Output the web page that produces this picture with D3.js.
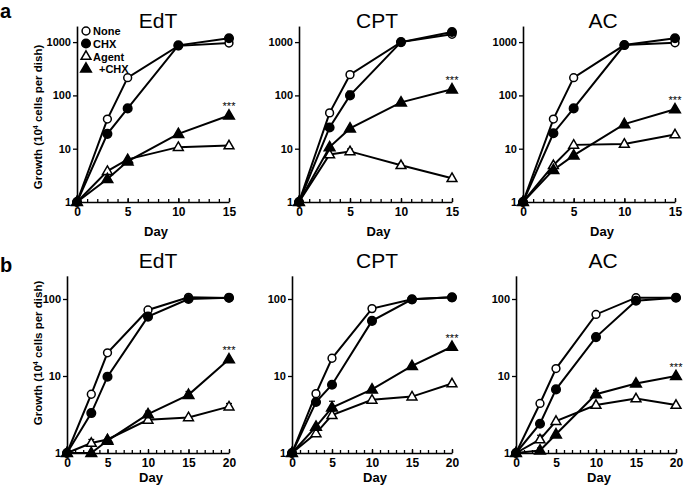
<!DOCTYPE html>
<html>
<head>
<meta charset="utf-8">
<script src="https://cdn.jsdelivr.net/npm/d3@7"></script>
<style>
  body { margin: 0; background: #fff; }
  svg { font-family: "Liberation Sans", Arial, sans-serif; }
</style>
</head>
<body>
<svg id="chart" width="685" height="486"></svg>
<script>
// data (10^4 cells per dish)
const daysA = [0, 3, 5, 10, 15];
const daysB = [0, 3, 5, 10, 15, 20];
const drugs = ["EdT", "CPT", "AC"];
const seriesNames = ["None", "CHX", "Agent", "+CHX"];

// series order: None, CHX, Agent, +CHX
const aEdT = [[1, 36, 215, 850, 960], [1, 19, 57, 870, 1180], [1, 3.8, 6.3, 10.7, 11.5], [1, 2.7, 5.8, 19, 42]];
const aCPT = [[1, 47, 245, 1000, 1400], [1, 25, 100, 1000, 1550], [1, 7.8, 8.9, 4.9, 2.8], [1, 10.7, 24, 74, 130]];
const aAC  = [[1, 36, 215, 880, 970], [1, 19.5, 57, 880, 1180], [1, 4.9, 11.8, 12.3, 18.5], [1, 4, 7.5, 29, 55]];

const bEdT = [[1, 5.8, 20, 72, 105, 103], [1, 3.3, 9.8, 59, 100, 104], [1, 1.35, 1.5, 2.7, 2.9, 4.0], [1, 1, 1.45, 3.2, 5.7, 16.5]];
const bCPT = [[1, 5.9, 17, 75, 99, 105], [1, 4.6, 7.7, 52, 99, 105], [1, 1.8, 3.1, 4.9, 5.4, 8.0], [1, 2.2, 3.9, 6.7, 13.5, 24]];
const bAC  = [[1, 4.4, 12.5, 63, 104, 104], [1, 2.4, 6.7, 32, 95, 104], [1, 1.5, 2.6, 4.2, 5.1, 4.2], [1, 1.08, 1.75, 5.8, 8.0, 10]];

// standard deviations (only where a bar is visible)
const aEdTErr = [[0, 0, 0, 0, 0], [0, 0, 0, 0, 0], [0, 0, 0, 0, 0], [0, 0, 0, 0, 0]];
const aCPTErr = [[0, 0, 0, 0, 0], [0, 0, 20, 0, 0], [0, 0, 1, 0.4, 0], [0, 0, 0, 0, 0]];
const aACErr  = [[0, 0, 0, 0, 0], [0, 0, 0, 0, 0], [0, 0, 0, 0, 0], [0, 0, 0, 0, 0]];
const bEdTErr = [[0, 0, 0, 0, 0, 0], [0, 0, 0, 6, 0, 0], [0, 0.15, 0, 0, 0, 0.4], [0, 0, 0, 0.3, 0.6, 0]];
const bCPTErr = [[0, 0, 1.5, 0, 0, 0], [0, 0, 0, 0, 0, 0], [0, 0, 0.4, 0, 0, 0], [0, 0, 0.8, 0, 0, 0]];
const bACErr  = [[0, 0, 0, 0, 0, 0], [0, 0, 0, 0, 0, 0], [0, 0.2, 0, 0, 0, 0], [0, 0.08, 0, 0.7, 0, 0]];

const yTicksA = [1, 10, 100, 1000];
const yTicksB = [1, 10, 100];
const xTicksA = [0, 5, 10, 15];
const xTicksB = [0, 5, 10, 15, 20];

const svg = d3.select("#chart");

// layout of the two rows
const rows = [
  { letter: "a", days: daysA, data: [aEdT, aCPT, aAC], err: [aEdTErr, aCPTErr, aACErr],
    yMax: 2000, yTicks: yTicksA, xTicks: xTicksA, xMax: 15,
    top: 202 - Math.log10(2000) * 53.3, bottom: 202,
    xr: [[77, 229], [299, 452], [523, 675]], titleY: 28, labelY: 117, dayY: 236, letterY: 18 },
  { letter: "b", days: daysB, data: [bEdT, bCPT, bAC], err: [bEdTErr, bCPTErr, bACErr],
    yMax: 200, yTicks: yTicksB, xTicks: xTicksB, xMax: 20,
    top: 453 - Math.log10(200) * 77, bottom: 453,
    xr: [[67, 229], [292, 452], [516, 676]], titleY: 268, labelY: 353, dayY: 482, letterY: 272 }
];
const titleX = [158, 377, 603];

const filled = [false, true, false, true];
const isTri = [false, false, true, true];

function marker(s) {
  return isTri[s]
    ? d3.symbol().type(d3.symbolTriangle).size(filled[s] ? 50 : 42)
    : d3.symbol().type(d3.symbolCircle).size(filled[s] ? 58 : 48);
}

rows.forEach(function(row) {
  svg.append("text")
    .attr("x", 0).attr("y", row.letterY)
    .attr("font-size", "20px").attr("font-weight", "bold")
    .text(row.letter);

  // y label
  const yl = svg.append("text")
    .attr("transform", "translate(42," + row.labelY + ") rotate(-90)")
    .attr("text-anchor", "middle")
    .attr("font-size", "11.5px").attr("font-weight", "bold");
  yl.append("tspan").text("Growth (10");
  yl.append("tspan").attr("font-size", "7px").attr("dy", -4).text("4");
  yl.append("tspan").attr("dy", 4).text(" cells per dish)");

  row.data.forEach(function(panel, p) {
    const x = d3.scaleLinear().domain([0, row.xMax]).range(row.xr[p]);
    const y = d3.scaleLog().domain([1, row.yMax]).range([row.bottom, row.top]);
    const g = svg.append("g");

    // title
    g.append("text")
      .attr("x", titleX[p]).attr("y", row.titleY)
      .attr("text-anchor", "middle")
      .attr("font-size", "21px")
      .text(drugs[p]);

    // x axis, minor ticks every day, pointing up
    const xMinor = g.append("g")
      .attr("transform", "translate(0," + row.bottom + ")")
      .call(d3.axisBottom(x).tickValues(d3.range(0, row.xMax + 1)).tickFormat("").tickSizeInner(-3).tickSizeOuter(0));
    xMinor.selectAll("line").attr("stroke-width", 1.3);
    xMinor.select(".domain").attr("stroke-width", 1.6);

    const xMajor = g.append("g")
      .attr("transform", "translate(0," + row.bottom + ")")
      .call(d3.axisBottom(x).tickValues(row.xTicks).tickSizeInner(-4).tickSizeOuter(0).tickPadding(5));
    xMajor.select(".domain").remove();
    xMajor.selectAll("line").attr("stroke-width", 1.3);
    xMajor.selectAll("text")
      .attr("font-size", "12px").attr("font-weight", "bold")
      .attr("font-family", "Liberation Sans, Arial, sans-serif");

    // y axis
    const yAx = g.append("g")
      .attr("transform", "translate(" + row.xr[p][0] + ",0)")
      .call(d3.axisLeft(y).tickValues(row.yTicks).tickFormat(d3.format("d")).tickSizeInner(4).tickSizeOuter(0).tickPadding(2));
    yAx.select(".domain").attr("stroke-width", 1.6);
    yAx.selectAll("line").attr("stroke-width", 1.3);
    yAx.selectAll("text")
      .attr("font-size", "11px").attr("font-weight", "bold")
      .attr("font-family", "Liberation Sans, Arial, sans-serif");

    // Day label
    g.append("text")
      .attr("x", (row.xr[p][0] + row.xr[p][1]) / 2 + 3).attr("y", row.dayY)
      .attr("text-anchor", "middle")
      .attr("font-size", "13px").attr("font-weight", "bold")
      .text("Day");

    const line = d3.line()
      .x(function(d, i) { return x(row.days[i]); })
      .y(function(d) { return y(d); });

    panel.forEach(function(vals) {
      g.append("path")
        .attr("d", line(vals))
        .attr("fill", "none")
        .attr("stroke", "#000")
        .attr("stroke-width", 2);
    });

    // error bars
    panel.forEach(function(vals, s) {
      vals.forEach(function(v, i) {
        const e = row.err[p][s][i];
        if (!e) return;
        const cx = x(row.days[i]);
        g.append("line")
          .attr("x1", cx).attr("x2", cx)
          .attr("y1", y(v)).attr("y2", y(v + e))
          .attr("stroke", "#000").attr("stroke-width", 1.2);
        g.append("line")
          .attr("x1", cx - 3).attr("x2", cx + 3)
          .attr("y1", y(v + e)).attr("y2", y(v + e))
          .attr("stroke", "#000").attr("stroke-width", 1.2);
      });
    });

    // markers, open ones first
    [0, 2, 1, 3].forEach(function(s) {
      panel[s].forEach(function(v, i) {
        const cx = x(row.days[i]), cy = y(v);
        g.append("path")
          .attr("d", marker(s)())
          .attr("transform", "translate(" + cx + "," + (cy + (isTri[s] ? 0.5 : 0)) + ")")
          .attr("fill", filled[s] || i === 0 ? "#000" : "#fff")
          .attr("stroke", "#000")
          .attr("stroke-width", 1.5);
      });
    });

    // significance stars above last +CHX point
    const last = panel[3].length - 1;
    g.append("text")
      .attr("x", x(row.days[last])).attr("y", y(panel[3][last]) - 5)
      .attr("text-anchor", "middle")
      .attr("font-size", "11px")
      .attr("fill", "#000")
      .text("***");
  });
});

// legend (top-left panel)
const legY = [31, 43.5, 56.5, 69];
seriesNames.forEach(function(name, s) {
  svg.append("path")
    .attr("d", marker(s)())
    .attr("transform", "translate(" + 86 + "," + legY[s] + ")")
    .attr("fill", filled[s] ? "#000" : "#fff")
    .attr("stroke", "#000")
    .attr("stroke-width", 1.5);
  svg.append("text")
    .attr("x", s === 3 ? 99 : 93).attr("y", legY[s] + 4)
    .attr("font-size", "11px").attr("font-weight", "bold")
    .text(name);
});
</script>
</body>
</html>
